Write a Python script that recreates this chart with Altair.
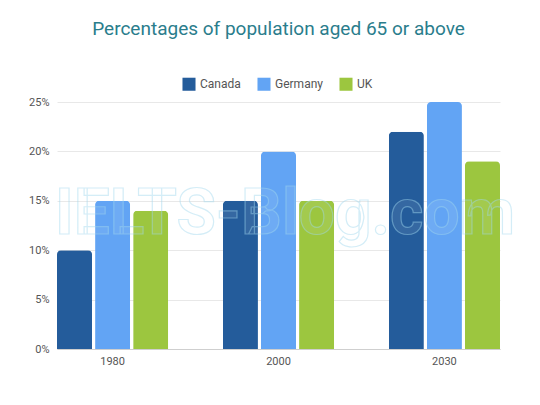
import pandas as pd
import altair as alt

years = ["1980", "2000", "2030"]
countries = ["Canada", "Germany", "UK"]
canada = [10, 15, 22]
germany = [15, 20, 25]
uk = [14, 15, 19]
colors = ["#245c9b", "#62a4f4", "#9cc63f"]

df = pd.DataFrame(
    {
        "year": years * 3,
        "country": [c for c in countries for _ in years],
        "value": canada + germany + uk,
    }
)

bars = (
    alt.Chart(df)
    .mark_bar(cornerRadiusTopLeft=4, cornerRadiusTopRight=4)
    .encode(
        alt.X(
            "year:N",
            title=None,
            scale=alt.Scale(paddingInner=0.33, paddingOuter=0),
            axis=alt.Axis(
                labelAngle=0,
                ticks=False,
                domainColor="#cfcfcf",
                labelColor="#555555",
                labelFontSize=11,
                labelPadding=6,
            ),
        ),
        alt.XOffset("country:N", sort=countries, scale=alt.Scale(paddingInner=0.08)),
        alt.Y(
            "value:Q",
            title=None,
            scale=alt.Scale(domain=[0, 25]),
            axis=alt.Axis(
                values=[0, 5, 10, 15, 20, 25],
                labelExpr="datum.value + '%'",
                ticks=False,
                domain=False,
                gridColor="#e8e8e8",
                labelColor="#555555",
                labelFontSize=11,
                labelPadding=8,
            ),
        ),
        alt.Color(
            "country:N",
            sort=countries,
            title=None,
            scale=alt.Scale(domain=countries, range=colors),
            legend=alt.Legend(
                orient="none",
                legendX=125,
                legendY=-25,
                direction="horizontal",
                symbolType="square",
                symbolSize=170,
                symbolStrokeWidth=0,
                labelFontSize=12,
                labelColor="#555555",
                columnPadding=16,
            ),
        ),
    )
)

watermark = (
    alt.Chart(pd.DataFrame({"t": ["IELTS-Blog.com"]}))
    .mark_text(
        font="Roboto",
        fontWeight="bold",
        fontSize=64,
        fill="#ffffff",
        fillOpacity=0.08,
        stroke="#9fd8ee",
        strokeOpacity=0.45,
        strokeWidth=1.2,
    )
    .encode(text="t:N", x=alt.value(228), y=alt.value(113))
)

chart = (
    alt.layer(bars, watermark)
    .properties(
        width=443,
        height=247,
        title=alt.TitleParams(
            "Percentages of population aged 65 or above",
            font="Roboto",
            fontSize=19,
            fontWeight="normal",
            color="#2a7d8c",
            anchor="middle",
            offset=38,
        ),
        padding={"left": 20, "top": 12, "right": 5, "bottom": 5},
    )
    .configure_axis(labelFont="Roboto")
    .configure_legend(labelFont="Roboto")
    .configure_view(stroke=None)
)

chart.save("out.html", embed_options={"renderer": "svg", "actions": False})
